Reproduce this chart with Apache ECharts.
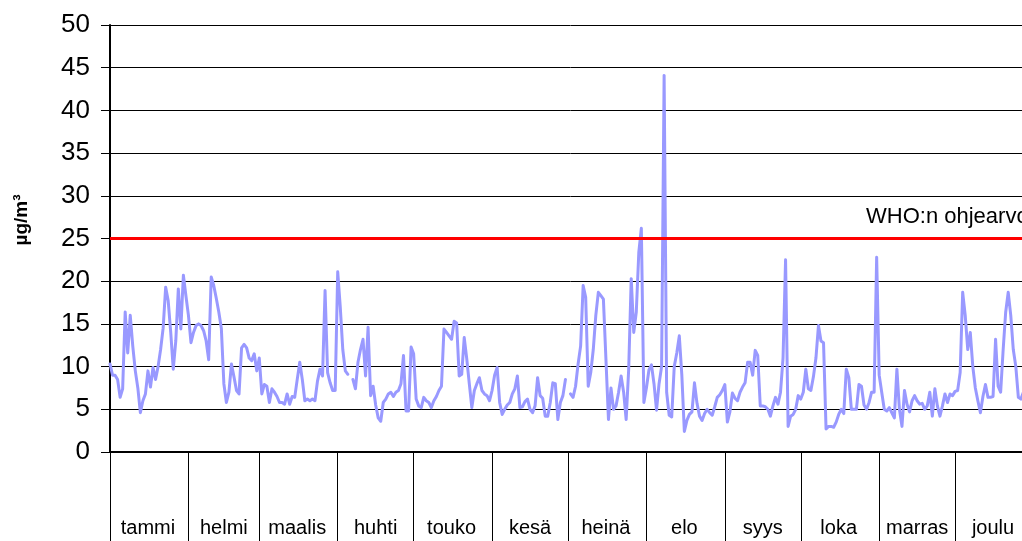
<!DOCTYPE html>
<html>
<head>
<meta charset="utf-8">
<script src="https://cdn.jsdelivr.net/npm/echarts@6/dist/echarts.min.js"></script>
<style>
  html, body { margin: 0; padding: 0; overflow: hidden; background: #fff; }
  /* plot runs a few px past the window edge, like the cropped original */
  #chart { width: 1040px; height: 541px; }
</style>
</head>
<body>
<div id="chart"></div>
<script>
// ---- data (daily values, µg/m³) ----
const months = ['tammi', 'helmi', 'maalis', 'huhti', 'touko', 'kesä', 'heinä', 'elo', 'syys', 'loka', 'marras', 'joulu'];
const monthDays = [31, 28, 31, 30, 31, 30, 31, 31, 30, 31, 30, 31];
const yMin = 0, yMax = 50, yStep = 5;
const whoLimit = 25;
const whoLabel = 'WHO:n ohjearvo';
const unitLabel = 'µg/m³';

const pmTammi = [10.3, 9.0, 9.0, 8.5, 6.4, 7.4, 16.4, 11.6, 16.0, 12.4, 9.5, 7.5, 4.6, 6.0, 6.8, 9.5, 7.6, 9.9, 8.5, 10.0, 12.0, 14.5, 19.3, 17.7, 14.0, 9.7, 13.0, 19.1, 14.4, 20.7, 18.3];
const pmHelmi = [16.0, 12.8, 14.0, 14.8, 15.0, 14.8, 14.2, 13.0, 10.8, 20.5, 19.5, 18.0, 16.4, 14.5, 8.0, 5.8, 7.0, 10.3, 8.8, 7.2, 6.8, 12.2, 12.6, 12.2, 11.0, 10.7, 11.5, 9.5];
const pmMaalis = [11.0, 6.8, 7.9, 7.7, 5.8, 7.4, 7.0, 6.5, 5.8, 5.8, 5.6, 6.8, 5.6, 6.5, 6.4, 8.5, 10.5, 8.5, 6.0, 6.2, 6.0, 6.2, 6.0, 8.3, 9.7, 8.9, 18.9, 9.3, 8.1, 7.2, 7.2];
const pmHuhti = [21.1, 17.0, 12.0, 9.5, 9.1, null, 8.5, 7.4, 10.5, 12.0, 13.2, 8.9, 14.6, 6.6, 7.7, 5.5, 4.0, 3.6, 5.8, 6.2, 6.8, 7.0, 6.5, 7.0, 7.2, 8.0, 11.3, 4.8, 4.8, 12.3];
const pmTouko = [11.5, 6.2, 5.4, 5.2, 6.4, 6.0, 5.8, 5.2, 6.0, 6.5, 7.2, 7.7, 14.4, 14.0, 13.6, 13.2, 15.3, 15.1, 8.9, 9.1, 13.4, 10.9, 8.0, 5.2, 7.2, 8.0, 8.7, 7.2, 6.8, 6.6, 6.0];
const pmKesa = [7.2, 9.0, 9.9, 5.8, 4.4, 5.0, 5.5, 5.8, 6.8, 7.4, 8.9, 5.2, 5.3, 5.9, 6.2, 5.0, 4.6, 5.4, 8.7, 6.6, 6.3, 4.2, 4.2, 5.8, 8.1, 8.0, 3.8, 5.8, 6.6, 8.5];
const pmHeina = [null, 6.8, 6.4, 7.7, 10.3, 12.4, 19.5, 18.1, 7.7, 9.3, 12.0, 16.0, 18.7, 18.3, 17.9, 10.9, 3.8, 7.5, 5.0, 5.4, 7.0, 8.9, 7.0, 3.8, 9.7, 20.3, 14.0, 16.4, 23.4, 26.2, 5.8];
const pmElo = [7.5, 9.6, 10.2, 8.0, 4.9, 8.0, 10.0, 44.1, 7.0, 4.3, 4.1, 10.0, 11.6, 13.6, 9.0, 2.4, 3.7, 4.4, 4.7, 8.1, 5.7, 4.2, 3.7, 4.5, 5.0, 4.6, 4.3, 5.3, 6.4, 6.7, 7.2];
const pmSyys = [7.9, 3.5, 4.7, 6.9, 6.3, 6.0, 7.0, 7.6, 8.1, 10.5, 10.5, 9.0, 11.9, 11.3, 5.4, 5.4, 5.3, 5.0, 4.2, 5.4, 6.4, 5.6, 7.0, 11.0, 22.5, 3.0, 4.2, 4.4, 5.0, 6.6];
const pmLoka = [6.2, 7.0, 9.7, 7.4, 7.2, 8.8, 11.0, 14.8, 13.0, 12.8, 2.7, 3.0, 3.0, 2.9, 3.5, 4.4, 5.0, 4.5, 9.7, 8.7, 5.0, 5.0, 5.0, 7.9, 7.7, 5.5, 5.0, 5.8, 7.0, 7.0, 22.8];
const pmMarras = [9.0, 7.0, 5.0, 4.8, 5.2, 4.6, 4.0, 9.7, 5.0, 3.0, 7.2, 5.6, 4.7, 6.0, 6.6, 6.0, 5.6, 5.7, 5.0, 5.4, 7.0, 4.2, 7.4, 5.4, 4.2, 5.4, 6.8, 5.8, 6.8, 6.6];
const pmJoulu = [7.1, 7.2, 9.3, 18.7, 16.0, 12.0, 14.0, 10.0, 7.5, 6.0, 4.6, 6.5, 7.9, 6.4, 6.4, 6.5, 13.2, 7.7, 7.0, 12.0, 16.4, 18.7, 16.0, 12.0, 10.0, 6.4, 6.2, 7.0, 7.0, 6.5, 7.0];

// ---- build category axis (one slot per day) ----
const pm = [].concat(pmTammi, pmHelmi, pmMaalis, pmHuhti, pmTouko, pmKesa,
                     pmHeina, pmElo, pmSyys, pmLoka, pmMarras, pmJoulu);
const days = [];
const monthStart = new Set();
const monthMid = {};
let start = 0;
monthDays.forEach(function (n, m) {
    monthStart.add(start);
    monthMid[start + Math.floor(n / 2)] = months[m];
    for (let d = 1; d <= n; d++) days.push((m + 1) + '/' + d);
    start += n;
});

const FONT = 'Liberation Sans, Arial, sans-serif';
const chart = echarts.init(document.getElementById('chart'));

chart.setOption({
    animation: false,
    backgroundColor: '#ffffff',
    textStyle: { fontFamily: FONT, color: '#000' },
    grid: { left: 110, right: 9, top: 25, bottom: 89 },
    xAxis: {
        type: 'category',
        data: days,
        boundaryGap: false,
        axisLine: { lineStyle: { color: '#000', width: 2 } },
        axisTick: {
            show: true,
            interval: function (i) { return monthStart.has(i); },
            length: 89,
            lineStyle: { color: '#000', width: 1 }
        },
        axisLabel: {
            interval: function (i) { return monthMid[i] !== undefined; },
            formatter: function (v, i) { return monthMid[i] || ''; },
            color: '#000', fontSize: 20, margin: 66, fontFamily: FONT
        },
        splitLine: { show: false }
    },
    yAxis: {
        type: 'value',
        min: yMin, max: yMax, interval: yStep,
        axisLine: { show: true, lineStyle: { color: '#000', width: 2 } },
        axisTick: { show: true, length: 9, lineStyle: { color: '#000', width: 1 } },
        axisLabel: { color: '#000', fontSize: 26, margin: 20, fontFamily: FONT },
        splitLine: { show: true, lineStyle: { color: '#000', width: 1 } }
    },
    graphic: [
        {
            // axis unit, rotated
            type: 'text',
            x: 22, y: 220,
            rotation: Math.PI / 2,
            style: { text: unitLabel, fontSize: 19, fontWeight: 'bold', fontFamily: FONT,
                     fill: '#000', align: 'center', verticalAlign: 'middle' }
        },
        {
            type: 'text',
            left: 866,
            top: 206,
            style: { text: whoLabel, fontSize: 22, fontFamily: FONT, fill: '#000' }
        }
    ],
    series: [
        {
            // WHO guideline line, drawn below the data
            type: 'line',
            data: [],
            z: 2,
            markLine: {
                silent: true,
                symbol: 'none',
                label: { show: false },
                lineStyle: { color: '#ff0000', width: 3, type: 'solid' },
                data: [{ yAxis: whoLimit }]
            }
        },
        {
            type: 'line',
            data: pm,
            z: 3,
            showSymbol: false,
            connectNulls: false,
            itemStyle: { color: '#9999ff' },
            lineStyle: { color: '#9999ff', width: 3, join: 'round', cap: 'round' }
        }
    ]
});
</script>
</body>
</html>
